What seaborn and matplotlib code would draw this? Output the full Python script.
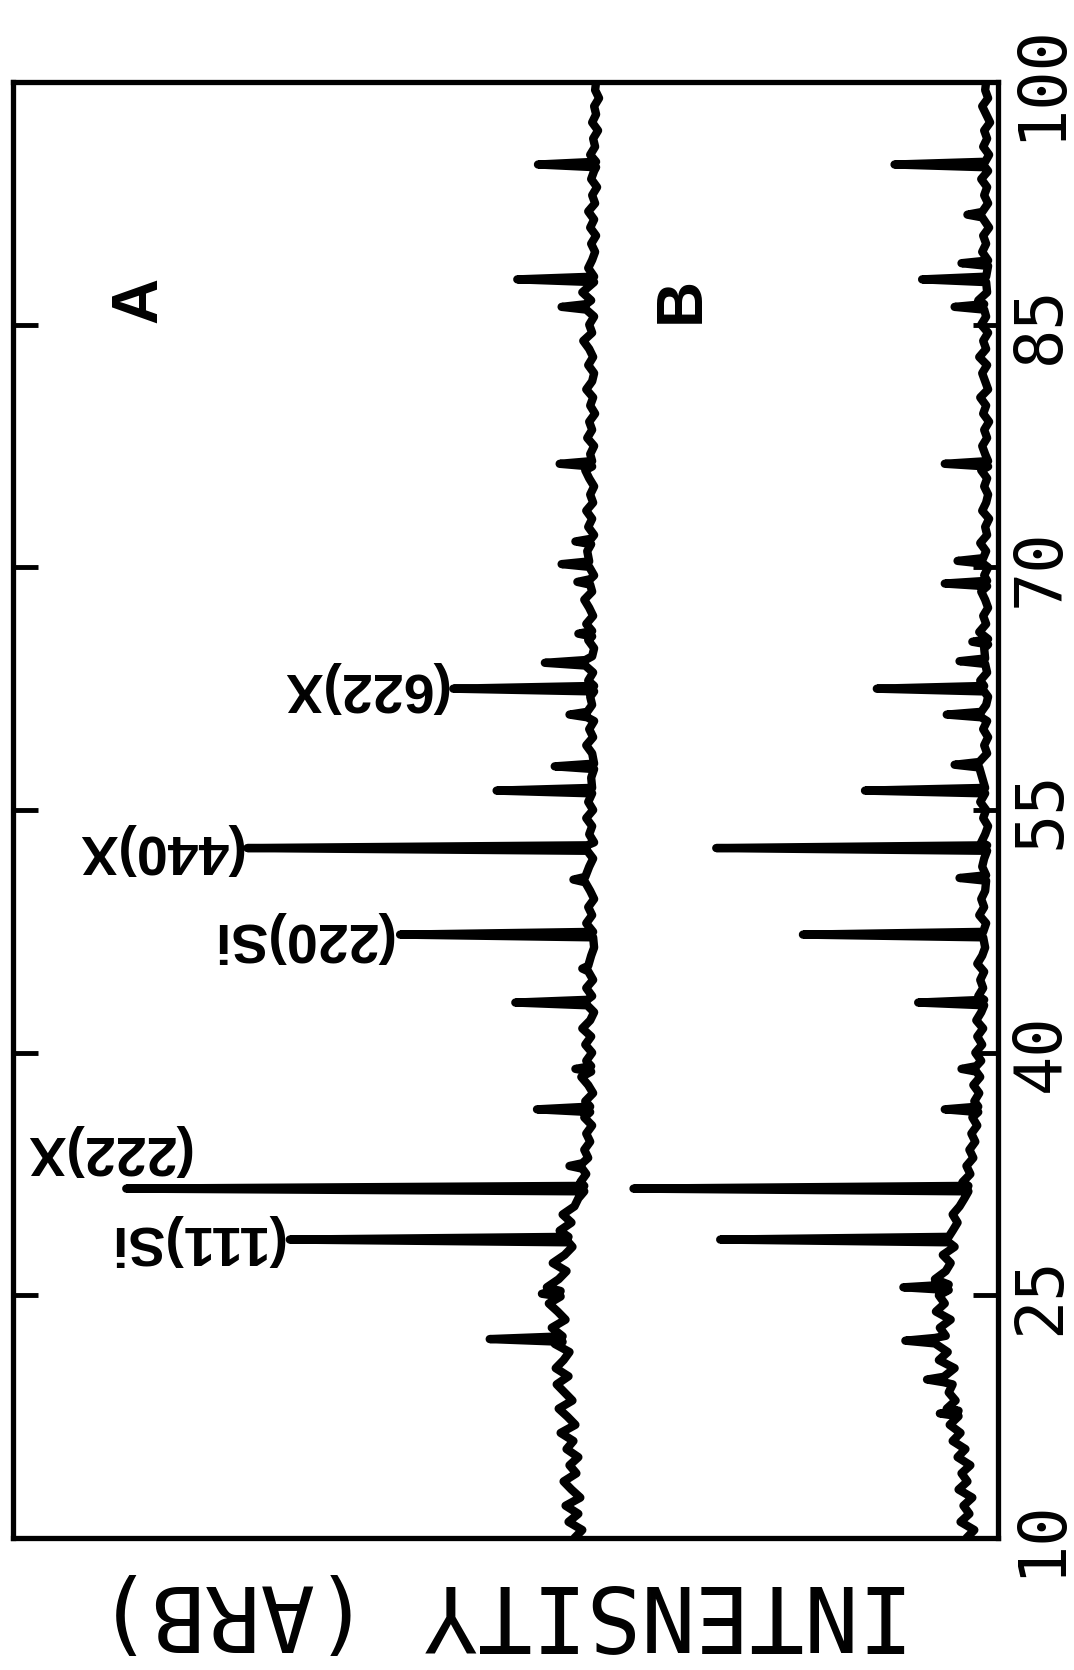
import numpy as np
import pandas as pd
import seaborn as sns
import matplotlib.pyplot as plt

# scan grid, 0.5 deg steps from 10 to 100 deg 2-theta
two_theta = np.linspace(10, 100, 181)

# background, arbitrary units
base_a = [3.0, 2.2, 3.6, 2.6, 3.9, 2.4, 3.3, 4.1, 2.8, 3.5,
          2.6, 3.8, 3.1, 4.4, 2.9, 3.7, 4.6, 3.2, 4.0, 4.8,
          3.6, 4.9, 4.1, 3.5, 5.0, 4.2, 5.3, 3.9, 4.7, 5.6,
          4.4, 5.8, 4.6, 3.8, 5.2, 4.0, 3.2, 3.6, 4.5, 3.3,
          4.2, 3.0, 2.6, 2.0, 2.4, 1.8, 2.2, 1.6, 2.0, 1.4,
          1.8, 1.2, 2.0, 1.4, 1.9, 1.1, 1.6, 2.3, 1.3, 1.8,
          1.2, 1.9, 1.3, 2.2, 1.4, 1.0, 1.7, 1.2, 1.8, 1.1,
          1.6, 1.9, 1.3, 1.0, 1.5, 1.1, 1.8, 1.2, 1.6, 1.0,
          1.4, 1.9, 1.2, 1.5, 1.1, 1.7, 1.0, 1.5, 1.2, 1.8,
          1.1, 1.6, 1.2, 1.9, 1.3, 1.0, 1.6, 1.2, 1.8, 1.1,
          1.5, 1.0, 1.7, 1.2, 1.4, 1.0, 1.6, 1.1, 1.9, 1.2,
          1.0, 1.6, 1.2, 1.8, 1.1, 1.5, 2.0, 1.2, 1.4, 1.0,
          1.5, 1.1, 1.7, 1.3, 1.0, 1.6, 1.2, 1.8, 1.1, 1.4,
          1.0, 1.5, 1.9, 1.2, 1.4, 1.0, 1.7, 1.2, 1.5, 0.9,
          1.4, 1.1, 1.8, 1.2, 1.0, 1.6, 1.1, 1.5, 2.1, 1.2,
          1.5, 1.0, 1.8, 1.3, 2.2, 1.4, 1.0, 1.6, 1.2, 0.9,
          1.3, 0.8, 1.4, 1.0, 1.6, 0.9, 1.2, 0.7, 1.3, 1.0,
          0.8, 1.4, 0.9, 1.1, 0.6, 1.2, 0.8, 1.0, 0.5, 0.9,
          0.8]

base_b = [3.2, 2.4, 3.8, 2.9, 3.5, 2.6, 4.0, 3.1, 3.7, 2.8,
          4.1, 3.3, 4.6, 3.8, 4.9, 4.0, 5.2, 4.3, 5.0, 4.6,
          5.5, 4.4, 6.0, 5.1, 6.4, 5.3, 5.9, 4.8, 6.3, 5.4,
          6.0, 5.0, 6.4, 5.3, 4.8, 5.6, 4.4, 5.0, 4.6, 4.1,
          4.6, 3.9, 3.4, 3.0, 3.6, 2.8, 3.2, 2.5, 2.9, 2.3,
          2.7, 2.1, 2.6, 2.0, 2.4, 1.9, 2.5, 1.8, 2.2, 1.7,
          2.3, 1.6, 2.1, 1.5, 2.2, 1.7, 1.4, 2.0, 1.5, 1.8,
          1.4, 2.1, 1.6, 1.3, 1.8, 1.5, 1.2, 1.9, 1.4, 1.7,
          1.3, 1.8, 1.2, 1.6, 1.4, 1.1, 1.7, 1.3, 1.0, 1.5,
          1.2, 1.8, 1.3, 1.0, 1.6, 1.2, 1.9, 1.1, 1.4, 1.0,
          1.5, 1.1, 1.7, 1.2, 1.0, 1.4, 1.8, 1.1, 1.3, 0.9,
          1.4, 1.0, 1.9, 1.2, 1.5, 1.0, 1.3, 1.7, 1.1, 1.4,
          1.0, 1.5, 1.2, 1.8, 1.1, 1.3, 0.9, 1.6, 1.2, 1.0,
          1.4, 1.1, 1.7, 1.0, 1.3, 1.6, 1.1, 1.4, 0.9, 1.5,
          1.2, 1.8, 1.0, 1.3, 1.6, 1.1, 1.9, 1.2, 1.5, 1.0,
          1.7, 1.2, 1.4, 2.0, 1.1, 1.5, 1.2, 1.8, 1.0, 1.6,
          1.2, 1.5, 0.9, 1.3, 1.6, 1.0, 1.4, 1.1, 1.7, 1.0,
          1.3, 0.9, 1.5, 1.1, 1.4, 0.8, 1.2, 1.6, 1.0, 1.3,
          1.2]

# diffraction peaks: position (deg 2-theta) and top intensity
peak_pos_a = [22.3, 25.1, 28.45, 31.6, 33.0, 36.5, 39.0, 43.1, 45.2, 47.3,
              50.7, 52.65, 56.2, 57.7, 60.9, 62.5, 64.1, 65.9, 69.1, 70.2,
              71.6, 76.4, 86.1, 87.8, 94.9]
peak_int_a = [11.6, 6.3, 31.9, 48.5, 3.5, 6.8, 2.9, 9.0, 2.2, 20.7,
              3.1, 36.2, 10.9, 5.0, 3.5, 15.3, 6.0, 2.6, 2.7, 4.3,
              2.9, 4.5, 4.3, 8.8, 6.7]

peak_pos_b = [17.7, 19.8, 22.2, 25.5, 28.45, 31.6, 36.5, 39.0, 43.1, 47.3,
              50.8, 52.65, 56.2, 57.8, 60.9, 62.5, 64.2, 65.4, 69.0, 70.4,
              76.4, 86.1, 87.8, 88.8, 91.8, 94.9]
peak_int_b = [5.9, 7.2, 9.4, 9.6, 28.2, 37.0, 5.4, 3.7, 8.1, 19.8,
              3.9, 28.6, 13.5, 4.4, 5.2, 12.3, 3.9, 2.6, 5.4, 4.1,
              5.4, 4.4, 7.7, 3.7, 3.1, 10.5]

offset_a = 40  # trace A is stacked above trace B

labels = ["(111)Si", "(222)X", "(220)Si", "(440)X", "(622)X"]


def build(name, base, pos, inten, offset):
    grid = list(zip(two_theta, base))
    pts = [(t, v) for t, v in grid if min(abs(t - p) for p in pos) > 0.3]
    for p, h in zip(pos, inten):
        # peak foot sits on the nearest background reading
        foot = min(grid, key=lambda g: abs(g[0] - p))[1]
        pts += [(p - 0.17, foot), (p, h), (p + 0.17, foot)]
    pts.sort()
    d = pd.DataFrame(pts, columns=["two_theta", "intensity"])
    d["intensity"] += offset
    d["trace"] = name
    return d


df = pd.concat([build("A", base_a, peak_pos_a, peak_int_a, offset_a),
                build("B", base_b, peak_pos_b, peak_int_b, 0)])

sns.set_style("white")
plt.rcParams["text.color"] = "black"
plt.rcParams["axes.labelcolor"] = "black"
plt.rcParams["ytick.color"] = "black"
mono = ["DejaVu Sans Mono"]
sans = ["Liberation Sans", "DejaVu Sans"]

fig = plt.figure(figsize=(10.74, 16.70), dpi=100)
ax = fig.add_axes([0.0121, 0.079, 0.9171, 0.8719])

sns.lineplot(data=df, x="intensity", y="two_theta", hue="trace",
             orient="y", estimator=None, sort=True,
             palette=["black", "black"], legend=False, linewidth=6,
             solid_joinstyle="round", solid_capstyle="round", ax=ax)

ax.set_xlim(100, 0)
ax.set_ylim(10, 100)
ax.set_xticks([])
ax.set_yticks([10, 25, 40, 55, 70, 85, 100])
ax.yaxis.set_ticks_position("both")
ax.tick_params(axis="y", direction="in", length=18, width=3.5,
               labelleft=False, labelright=True, pad=8)
for lab in ax.get_yticklabels():
    lab.set_rotation(90)
    lab.set_va("center")
    lab.set_ha("left")
    lab.set_fontfamily(mono)
    lab.set_fontsize(47)
    lab.set_color("black")
for sp in ax.spines.values():
    sp.set_linewidth(3.8)
    sp.set_color("black")
ax.set_ylabel("")
ax.set_xlabel("INTENSITY (ARB)", rotation=180, fontsize=65,
              family=mono, labelpad=20, color="black")

# peak labels, placed next to the peak tips of trace A
tips = dict(zip(peak_pos_a, peak_int_a))
label_at = [(28.45, 28.45, 0.7), (31.6, 34.0, -6.5), (47.3, 47.15, 0.8),
            (52.65, 52.6, 0.5), (62.5, 62.6, 0.6)]
for text, (p, yt, gap) in zip(labels, label_at):
    ax.text(tips[p] + offset_a + gap, yt, text, rotation=180,
            ha="right", va="center", fontsize=40, family=sans,
            fontweight="bold", color="black")

ax.text(87.2, 86.5, "A", rotation=90, ha="center", va="center",
        fontsize=46, family=sans, fontweight="bold", color="black")
ax.text(32.1, 86.5, "B", rotation=90, ha="center", va="center",
        fontsize=46, family=sans, fontweight="bold", color="black")

fig.savefig("out.png", dpi=100)
